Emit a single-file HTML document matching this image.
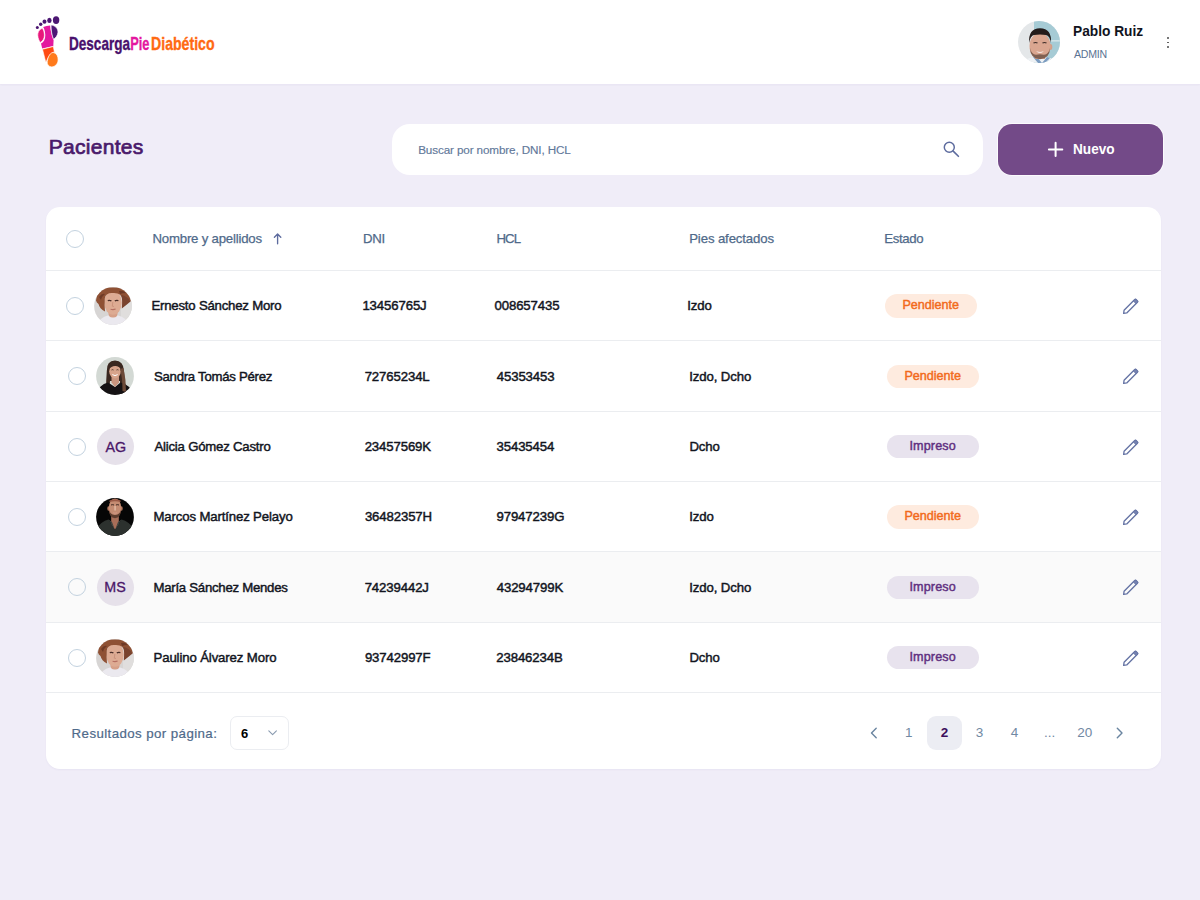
<!DOCTYPE html>
<html lang="es">
<head>
<meta charset="utf-8">
<title>Pacientes - DescargaPieDiabético</title>
<style>
html,body{margin:0;padding:0;}
body{width:1200px;height:900px;overflow:hidden;background:#F0EDF8;position:relative;font-family:"Liberation Sans",sans-serif;}
.t{position:absolute;line-height:1;white-space:nowrap;}
.hdr{position:absolute;left:0;top:0;width:1200px;height:84px;background:#FFFFFF;box-shadow:0 1px 2px rgba(60,40,120,0.05);}
.search{position:absolute;left:392px;top:124px;width:591px;height:51px;background:#FFFFFF;border-radius:18px;}
.btn{position:absolute;left:998px;top:124px;width:165px;height:51px;background:#734A88;border-radius:14px;box-shadow:0 0 0 1px rgba(255,255,255,0.7);}
.card{position:absolute;left:46px;top:207px;width:1115px;height:561.5px;background:#FFFFFF;border-radius:14px;box-shadow:0 1px 2px rgba(80,60,140,0.05);}
.sep{position:absolute;left:46px;width:1115px;height:1px;background:#EBEDF0;}
.hover{position:absolute;left:46px;top:552px;width:1115px;height:70px;background:#FAFAFA;}
.cb{position:absolute;width:16px;height:16px;border:1.3px solid #C3D2DF;border-radius:50%;}
.pill{position:absolute;width:92px;height:23.5px;border-radius:12px;}
.pp{background:#FEEBDF;}
.pi{background:#E8E3EE;}
.pen,.av,.svgabs{position:absolute;}
.ini{position:absolute;width:37.5px;height:37.5px;border-radius:50%;background:#E6E1EA;}
.sel{position:absolute;left:230px;top:716px;width:57px;height:31.5px;border:1px solid #EBEDF1;border-radius:7px;background:#fff;}
.pact{position:absolute;left:927px;top:716px;width:35px;height:34px;border-radius:9px;background:#ECEDF3;}
</style>
</head>
<body>
<svg width="0" height="0" style="position:absolute">
<defs>
  <clipPath id="cc38"><circle cx="19" cy="19" r="18.9"/></clipPath>
  <symbol id="pencil" viewBox="0 0 17 17">
    <g transform="rotate(-45 8.5 8.5)">
      <path d="M-1.2 8.5 L1.3 6.6 H16.4 Q17.4 6.6 17.4 7.6 V9.4 Q17.4 10.4 16.4 10.4 H1.3 Z" fill="none" stroke="#6372A3" stroke-width="1.3" stroke-linejoin="round"/>
      <path d="M14.3 6.6 H16.4 Q17.4 6.6 17.4 7.6 V9.4 Q17.4 10.4 16.4 10.4 H14.3 Z" fill="#7582B0" stroke="#6372A3" stroke-width="0.6"/>
    </g>
  </symbol>
  <symbol id="av0" viewBox="0 0 38 38">
    <g clip-path="url(#cc38)">
      <rect width="38" height="38" fill="#D7D5D4"/>
      <rect x="27" width="11" height="38" fill="#E0DEDD"/>
      <path d="M3 38 Q6 30 14 28.5 L24 28.5 Q32 30 35 38 Z" fill="#EBE9EF"/>
      <rect x="14.5" y="21" width="9" height="9.5" rx="4" fill="#D6A088"/>
      <ellipse cx="19" cy="15.8" rx="8.8" ry="12" fill="#DDAB93"/>
      <path d="M2 13.5 Q3 3 12 0.5 L26 0.5 Q35 3 37 14.5 Q34 12 28.2 13 Q28 5.5 19 6 Q11.5 5.5 10.8 11.5 Q10.3 18 11 24.5 Q5.5 21.5 4.5 17 Q2.5 15.5 2 13.5 Z" fill="#8F5134"/>
      <path d="M27.4 8 Q28.6 13 27.8 21.5 Q33 17.5 36.5 14.5 Q33.5 9 27.4 8 Z" fill="#7A432E"/>
      <path d="M5 10 Q8 6 11 7 Q8 9 7 13 Z M25 4 Q29 3 32 6 Q28 6 26 7 Z" fill="#6E3A26"/>
      <path d="M13.8 13.6 Q15.6 12.9 17.4 13.8 M20.8 13.8 Q22.6 12.9 24.4 13.6" stroke="#4A2E28" stroke-width="1.3" fill="none"/>
      <path d="M16.6 22.2 Q19 23 21.6 22.1" stroke="#B46E60" stroke-width="1.1" fill="none"/>
      <path d="M18.8 15 L18.3 19.2 L20 19.5" stroke="#C48A74" stroke-width="0.7" fill="none"/>
    </g>
  </symbol>
  <symbol id="av1" viewBox="0 0 38 38">
    <g clip-path="url(#cc38)">
      <rect width="38" height="38" fill="#D3D9D4"/>
      <path d="M10.8 14 Q10.5 3.8 19 3.6 Q27.5 3.8 28 14 L29 26 Q31.5 33 28 37 L24 37 L24 24 L14 24 L13.5 30 Q9.5 29 10.2 24 Z" fill="#3A2820"/>
      <path d="M0 38 Q3 27.5 12 25.5 L19 30 L24.5 25.5 Q34 27.5 38 38 Z" fill="#151214"/>
      <path d="M15.5 20 L15.5 25.5 L19 30 L23 25.5 L23 20 Z" fill="#C9957F"/>
      <ellipse cx="19" cy="14.2" rx="5.8" ry="7.2" fill="#D8A48B"/>
      <path d="M13 12.5 Q14 6.5 19 6.6 Q24.5 6.8 25.2 12.5 Q23 8.8 19 9 Q15 9.2 13 12.5 Z" fill="#3A2820"/>
      <path d="M24 12 Q26.5 20 26.5 34 L30 35 Q30 22 27.5 11 Z" fill="#6C4A38"/>
      <path d="M16.3 17.6 Q19 19.6 21.7 17.6" stroke="#FFFFFF" stroke-width="1" fill="none"/>
      <path d="M15.5 13 Q16.5 12.3 17.5 13 M20.5 13 Q21.5 12.3 22.5 13" stroke="#3A2820" stroke-width="0.8" fill="none"/>
    </g>
  </symbol>
  <symbol id="av3" viewBox="0 0 38 38">
    <g clip-path="url(#cc38)">
      <rect width="38" height="38" fill="#060606"/>
      <path d="M15.2 16 L15.2 26 L19 32 L22.8 26 L22.8 16 Z" fill="#A86E58"/>
      <path d="M0 38 L0 31 Q5 23.5 12.5 21.5 L19 32 L25.5 21.5 Q33 23.5 38 31 L38 38 Z" fill="#2C312E"/>
      <path d="M12.5 21.5 L19 32 L16 24 Z M25.5 21.5 L19 32 L22 24 Z" fill="#3E4440"/>
      <ellipse cx="12.6" cy="10.5" rx="1.3" ry="2.2" fill="#B57A62"/>
      <ellipse cx="25.4" cy="10.5" rx="1.3" ry="2.2" fill="#B57A62"/>
      <ellipse cx="19" cy="10" rx="6.3" ry="9.6" fill="#C48C72"/>
      <path d="M12.8 11 Q13 19.8 19 20.2 Q25 19.8 25.2 11 Q24.5 16.5 19 17 Q13.5 16.5 12.8 11 Z" fill="#5C3C2E"/>
      <path d="M13.5 2.5 Q19 0 24.5 2.5 L24.5 4 Q19 2.5 13.5 4 Z" fill="#9A5A46"/>
      <path d="M15 7 Q16.5 6.3 18 7 M20 7 Q21.5 6.3 23 7" stroke="#3A2620" stroke-width="1" fill="none"/>
      <rect x="18.2" y="8" width="1.8" height="4.5" fill="#DDB29A"/>
      <path d="M17 14.8 Q19 15.6 21 14.8" stroke="#D39A88" stroke-width="0.9" fill="none"/>
    </g>
  </symbol>
  <symbol id="av5" viewBox="0 0 38 38"><use href="#av0"/></symbol>
  <clipPath id="cc42"><circle cx="21" cy="21" r="21"/></clipPath>
</defs>
</svg>

<div class="hdr"></div>
<!-- logo foot -->
<svg class="svgabs" style="left:30px;top:10px" width="30" height="60" viewBox="0 0 30 60">
  <ellipse cx="7.3" cy="17.6" rx="1.5" ry="1.5" fill="#4B1672"/>
  <ellipse cx="10.7" cy="14.3" rx="1.7" ry="1.7" fill="#4B1672"/>
  <ellipse cx="14.5" cy="11.7" rx="2" ry="2.1" fill="#4B1672"/>
  <ellipse cx="19.4" cy="10.4" rx="2.2" ry="2.6" fill="#4B1672"/>
  <ellipse cx="26.1" cy="10.1" rx="3.2" ry="3.9" fill="#4B1672"/>
  <path d="M13.2 16.9 C15.4 16.2 17.6 15.7 20.2 15.6 C20.4 20.6 21.6 26 23.6 30 L23.3 36 L12.2 38.6 L11 33.6 C13.9 32.2 15.4 28.7 15.3 25 C15.2 22 14.5 19.2 13.2 16.9 Z" fill="#E3189F"/>
  <path d="M21.1 15.1 C25.2 15.4 28.3 18.8 27.9 22.6 C27.6 25.6 25.6 27.9 23.6 29.3 C22 26 21 20 21.1 15.1 Z" fill="#4E1675" stroke="#fff" stroke-width="0.6"/>
  <path d="M12.2 18.3 C9.2 19.3 7.6 22.5 7.8 25.5 C8 28.5 9.2 31.2 10.4 32.4 C12.8 31 14.5 28.3 14.4 25 C14.3 22.2 13.5 19.8 12.2 18.3 Z" fill="#E8177C" stroke="#fff" stroke-width="0.6"/>
  <path d="M12.5 39.3 L23.3 36.5 L24.4 42 C21 42.6 18.6 46 16.4 51.4 L15.6 51.4 Z" fill="#FF4A12" stroke="#fff" stroke-width="0.6"/>
  <path d="M23.6 42.6 C26.7 43.2 28.3 46.6 28.1 50 C27.9 54 24.9 56.9 21.7 56.9 C19 56.9 16.8 54.6 17.2 51.6 C17.8 47 20.3 42 23.6 42.6 Z" fill="#FF7A1C" stroke="#fff" stroke-width="0.7"/>
</svg>
<svg class="svgabs" style="left:66px;top:30px" width="150" height="28" viewBox="0 0 150 28">
  <g font-family="Liberation Sans" font-weight="700" font-size="18.2" stroke-width="0.35" lengthAdjust="spacingAndGlyphs">
  <text x="3" y="20" fill="#48106C" stroke="#48106C" textLength="61" lengthAdjust="spacingAndGlyphs">Descarga</text>
  <text x="64.2" y="20" fill="#E4179F" stroke="#E4179F" textLength="19.2" lengthAdjust="spacingAndGlyphs">Pie</text>
  <text x="85" y="20" fill="#FF6A12" stroke="#FF6A12" textLength="63.6" lengthAdjust="spacingAndGlyphs">Diabético</text>
  </g>
</svg>
<!-- header avatar -->
<svg class="svgabs" style="left:1018px;top:21px" width="42" height="42" viewBox="0 0 42 42">
  <g clip-path="url(#cc42)">
    <rect width="42" height="42" fill="#E4E7E9"/>
    <path d="M16 0 H42 V42 H16 Z" fill="#A6CBD5"/>
    <rect x="30" y="19" width="12" height="1.6" fill="#CFE3E8"/>
    <path d="M5 42 Q9 35 22 36 Q35 35 39 42 Z" fill="#EEF1F4"/>
    <path d="M15 36 L20 42 L24 42 L19 36 Z M29 36 L24 42 L27 42 L32 37 Z" fill="#7C9CC0"/>
    <rect x="17" y="30" width="10" height="8" fill="#C9957E"/>
    <ellipse cx="32.5" cy="26" rx="1.8" ry="3" fill="#D39D86"/>
    <ellipse cx="22" cy="25" rx="10.5" ry="13" fill="#DAA690"/>
    <path d="M11.8 26.5 Q12.5 38 22 38.3 Q31.5 38 32.2 26.5 Q30.5 33.5 26 33.8 Q22 32.5 18 33.8 Q13.5 33.5 11.8 26.5 Z" fill="#806052"/>
    <path d="M11.2 22 Q10 7.5 22 7.2 Q34 7.5 33 22 Q31.8 14.5 28 14 Q22 12.8 16 14 Q12.2 14.8 11.2 22 Z" fill="#231B1A"/>
    <path d="M15.5 22 Q17.5 21 19.5 22 M24.5 22 Q26.5 21 28.5 22" stroke="#3A2A26" stroke-width="1.2" fill="none"/>
    <path d="M18 30.2 Q22 33.2 26 30.2 Q22 31.6 18 30.2 Z" fill="#FFFFFF"/>
  </g>
</svg>
<!-- kebab -->
<div style="position:absolute;left:1167.2px;top:36.8px;width:1.8px;height:1.8px;border-radius:1px;background:#4A4A4A"></div>
<div style="position:absolute;left:1167.2px;top:41.5px;width:1.8px;height:1.8px;border-radius:1px;background:#4A4A4A"></div>
<div style="position:absolute;left:1167.2px;top:46.2px;width:1.8px;height:1.8px;border-radius:1px;background:#4A4A4A"></div>

<div class="search"></div>
<svg class="svgabs" style="left:935px;top:134px" width="30" height="30" viewBox="0 0 30 30">
  <circle cx="14.3" cy="13.2" r="5" fill="none" stroke="#5D6B9E" stroke-width="1.45"/>
  <path d="M18.2 17.1 L23.4 22.3" stroke="#5D6B9E" stroke-width="1.6" stroke-linecap="round"/>
</svg>
<div class="btn"></div>
<svg class="svgabs" style="left:1040px;top:134px" width="30" height="30" viewBox="0 0 30 30">
  <path d="M8.9 15.4 H22.3 M15.6 8.7 V22.1" stroke="#FFFFFF" stroke-width="2" stroke-linecap="round"/>
</svg>

<div class="card"></div>
<div class="hover"></div>
<div class="sep" style="top:270px"></div>
<div class="sep" style="top:340.0px"></div>
<div class="sep" style="top:410.5px"></div>
<div class="sep" style="top:480.5px"></div>
<div class="sep" style="top:551.0px"></div>
<div class="sep" style="top:621.5px"></div>
<div class="sep" style="top:691.5px"></div>
<div class="cb" style="left:66px;top:230px"></div>
<svg class="svgabs" style="left:265px;top:227px" width="25" height="25" viewBox="0 0 25 25">
  <path d="M12.6 7.2 V16.8 M9.4 10.2 L12.6 7 L15.8 10.2" fill="none" stroke="#5D6B9E" stroke-width="1.35" stroke-linecap="round" stroke-linejoin="round"/>
</svg>
<div class="cb" style="left:66px;top:296.8px"></div>
<div class="pill pp" style="left:885px;top:294.1px"></div>
<svg class="pen" style="left:1122px;top:297.8px" width="17" height="17" viewBox="0 0 17 17"><use href="#pencil"/></svg>
<svg class="av" style="left:94px;top:286.9px" width="38" height="38" viewBox="0 0 38 38"><use href="#av0"/></svg>
<div class="cb" style="left:68px;top:367.2px"></div>
<div class="pill pp" style="left:887px;top:364.6px"></div>
<svg class="pen" style="left:1122px;top:368.2px" width="17" height="17" viewBox="0 0 17 17"><use href="#pencil"/></svg>
<svg class="av" style="left:95.9px;top:357.4px" width="38" height="38" viewBox="0 0 38 38"><use href="#av1"/></svg>
<div class="cb" style="left:68px;top:437.5px"></div>
<div class="pill pi" style="left:887px;top:434.8px"></div>
<svg class="pen" style="left:1122px;top:438.5px" width="17" height="17" viewBox="0 0 17 17"><use href="#pencil"/></svg>
<div class="ini" style="left:96.6px;top:427.8px"></div>
<div class="cb" style="left:68px;top:507.8px"></div>
<div class="pill pp" style="left:887px;top:505.1px"></div>
<svg class="pen" style="left:1122px;top:508.8px" width="17" height="17" viewBox="0 0 17 17"><use href="#pencil"/></svg>
<svg class="av" style="left:95.9px;top:497.9px" width="38" height="38" viewBox="0 0 38 38"><use href="#av3"/></svg>
<div class="cb" style="left:68px;top:578.2px"></div>
<div class="pill pi" style="left:887px;top:575.5px"></div>
<svg class="pen" style="left:1122px;top:579.2px" width="17" height="17" viewBox="0 0 17 17"><use href="#pencil"/></svg>
<div class="ini" style="left:96.6px;top:568.5px"></div>
<div class="cb" style="left:68px;top:648.5px"></div>
<div class="pill pi" style="left:887px;top:645.8px"></div>
<svg class="pen" style="left:1122px;top:649.5px" width="17" height="17" viewBox="0 0 17 17"><use href="#pencil"/></svg>
<svg class="av" style="left:95.9px;top:638.6px" width="38" height="38" viewBox="0 0 38 38"><use href="#av5"/></svg>

<div class="sel"></div>
<svg class="svgabs" style="left:265px;top:727px" width="15" height="12" viewBox="0 0 15 12">
  <path d="M3.8 3.8 L7.6 7.6 L11.4 3.8" fill="none" stroke="#8A9BB0" stroke-width="1.1" stroke-linecap="round" stroke-linejoin="round"/>
</svg>
<div class="pact"></div>
<svg class="svgabs" style="left:866px;top:725px" width="16" height="16" viewBox="0 0 16 16">
  <path d="M10.2 3.2 L5.5 8 L10.2 12.8" fill="none" stroke="#6A85A0" stroke-width="1.4" stroke-linecap="round" stroke-linejoin="round"/>
</svg>
<svg class="svgabs" style="left:1112px;top:725px" width="16" height="16" viewBox="0 0 16 16">
  <path d="M5.3 3.2 L10 8 L5.3 12.8" fill="none" stroke="#6A85A0" stroke-width="1.4" stroke-linecap="round" stroke-linejoin="round"/>
</svg>

<span class="t" style="left:1073.15px;top:23.95px;font-size:14.5px;font-weight:700;letter-spacing:0.000px;color:#11141d;transform:scaleX(0.9471);transform-origin:0 0;">Pablo Ruiz</span>
<span class="t" style="left:1073.90px;top:49.47px;font-size:10.6px;font-weight:400;letter-spacing:-0.213px;color:#5B7393;">ADMIN</span>
<span class="t" style="left:48.75px;top:135.61px;font-size:21px;font-weight:400;letter-spacing:0.281px;color:#4A196B;-webkit-text-stroke:0.71px #4A196B;">Pacientes</span>
<span class="t" style="left:418.20px;top:144.03px;font-size:11.7px;font-weight:400;letter-spacing:-0.127px;color:#62789A;-webkit-text-stroke:0.15px #62789A">Buscar por nombre, DNI, HCL</span>
<span class="t" style="left:1072.87px;top:141.38px;font-size:15.4px;font-weight:700;letter-spacing:0.000px;color:#FFFFFF;transform:scaleX(0.8835);transform-origin:0 0;">Nuevo</span>
<span class="t" style="left:152.50px;top:231.75px;font-size:13.2px;font-weight:400;letter-spacing:-0.194px;color:#4F6A8A;-webkit-text-stroke:0.25px #4F6A8A">Nombre y apellidos</span>
<span class="t" style="left:363.00px;top:231.75px;font-size:13.2px;font-weight:400;letter-spacing:-0.250px;color:#4F6A8A;-webkit-text-stroke:0.25px #4F6A8A">DNI</span>
<span class="t" style="left:496.60px;top:231.75px;font-size:13.2px;font-weight:400;letter-spacing:-1.000px;color:#4F6A8A;-webkit-text-stroke:0.25px #4F6A8A">HCL</span>
<span class="t" style="left:689.20px;top:231.75px;font-size:13.2px;font-weight:400;letter-spacing:-0.123px;color:#4F6A8A;-webkit-text-stroke:0.25px #4F6A8A">Pies afectados</span>
<span class="t" style="left:884.20px;top:231.75px;font-size:13.2px;font-weight:400;letter-spacing:-0.320px;color:#4F6A8A;-webkit-text-stroke:0.25px #4F6A8A">Estado</span>
<span class="t" style="left:151.50px;top:299.10px;font-size:13.2px;font-weight:400;letter-spacing:-0.216px;color:#12151E;-webkit-text-stroke:0.45px #12151E;">Ernesto Sánchez Moro</span>
<span class="t" style="left:362.40px;top:299.10px;font-size:13.2px;font-weight:400;letter-spacing:-0.119px;color:#12151E;-webkit-text-stroke:0.45px #12151E;">13456765J</span>
<span class="t" style="left:494.50px;top:299.10px;font-size:13.2px;font-weight:400;letter-spacing:-0.122px;color:#12151E;-webkit-text-stroke:0.45px #12151E;">008657435</span>
<span class="t" style="left:687.15px;top:299.10px;font-size:13.2px;font-weight:400;letter-spacing:-0.115px;color:#12151E;-webkit-text-stroke:0.45px #12151E;">Izdo</span>
<span class="t" style="left:902.50px;top:299.31px;font-size:12.6px;font-weight:400;letter-spacing:-0.031px;color:#F26A1B;-webkit-text-stroke:0.43px #F26A1B;">Pendiente</span>
<span class="t" style="left:154.00px;top:369.60px;font-size:13.2px;font-weight:400;letter-spacing:-0.268px;color:#12151E;-webkit-text-stroke:0.45px #12151E;">Sandra Tomás Pérez</span>
<span class="t" style="left:364.65px;top:369.60px;font-size:13.2px;font-weight:400;letter-spacing:-0.121px;color:#12151E;-webkit-text-stroke:0.45px #12151E;">72765234L</span>
<span class="t" style="left:496.75px;top:369.60px;font-size:13.2px;font-weight:400;letter-spacing:-0.124px;color:#12151E;-webkit-text-stroke:0.45px #12151E;">45353453</span>
<span class="t" style="left:689.15px;top:369.60px;font-size:13.2px;font-weight:400;letter-spacing:-0.102px;color:#12151E;-webkit-text-stroke:0.45px #12151E;">Izdo, Dcho</span>
<span class="t" style="left:904.50px;top:369.81px;font-size:12.6px;font-weight:400;letter-spacing:-0.031px;color:#F26A1B;-webkit-text-stroke:0.43px #F26A1B;">Pendiente</span>
<span class="t" style="left:154.50px;top:439.85px;font-size:13.2px;font-weight:400;letter-spacing:-0.219px;color:#12151E;-webkit-text-stroke:0.45px #12151E;">Alicia Gómez Castro</span>
<span class="t" style="left:364.65px;top:439.85px;font-size:13.2px;font-weight:400;letter-spacing:-0.125px;color:#12151E;-webkit-text-stroke:0.45px #12151E;">23457569K</span>
<span class="t" style="left:496.50px;top:439.85px;font-size:13.2px;font-weight:400;letter-spacing:-0.124px;color:#12151E;-webkit-text-stroke:0.45px #12151E;">35435454</span>
<span class="t" style="left:689.40px;top:439.85px;font-size:13.2px;font-weight:400;letter-spacing:-0.146px;color:#12151E;-webkit-text-stroke:0.45px #12151E;">Dcho</span>
<span class="t" style="left:909.50px;top:440.06px;font-size:12.6px;font-weight:400;letter-spacing:0.125px;color:#5F2F80;-webkit-text-stroke:0.43px #5F2F80;">Impreso</span>
<span class="t" style="left:105.45px;top:439.62px;font-size:14.3px;font-weight:400;letter-spacing:-0.050px;color:#4A1668;-webkit-text-stroke:0.3px #4A1668">AG</span>
<span class="t" style="left:153.50px;top:510.10px;font-size:13.2px;font-weight:400;letter-spacing:-0.140px;color:#12151E;-webkit-text-stroke:0.45px #12151E;">Marcos Martínez Pelayo</span>
<span class="t" style="left:364.90px;top:510.10px;font-size:13.2px;font-weight:400;letter-spacing:-0.125px;color:#12151E;-webkit-text-stroke:0.45px #12151E;">36482357H</span>
<span class="t" style="left:496.50px;top:510.10px;font-size:13.2px;font-weight:400;letter-spacing:-0.127px;color:#12151E;-webkit-text-stroke:0.45px #12151E;">97947239G</span>
<span class="t" style="left:689.15px;top:510.10px;font-size:13.2px;font-weight:400;letter-spacing:-0.115px;color:#12151E;-webkit-text-stroke:0.45px #12151E;">Izdo</span>
<span class="t" style="left:904.50px;top:510.31px;font-size:12.6px;font-weight:400;letter-spacing:-0.031px;color:#F26A1B;-webkit-text-stroke:0.43px #F26A1B;">Pendiente</span>
<span class="t" style="left:153.50px;top:580.60px;font-size:13.2px;font-weight:400;letter-spacing:-0.261px;color:#12151E;-webkit-text-stroke:0.45px #12151E;">María Sánchez Mendes</span>
<span class="t" style="left:364.65px;top:580.60px;font-size:13.2px;font-weight:400;letter-spacing:-0.119px;color:#12151E;-webkit-text-stroke:0.45px #12151E;">74239442J</span>
<span class="t" style="left:496.75px;top:580.60px;font-size:13.2px;font-weight:400;letter-spacing:-0.126px;color:#12151E;-webkit-text-stroke:0.45px #12151E;">43294799K</span>
<span class="t" style="left:689.15px;top:580.60px;font-size:13.2px;font-weight:400;letter-spacing:-0.102px;color:#12151E;-webkit-text-stroke:0.45px #12151E;">Izdo, Dcho</span>
<span class="t" style="left:909.50px;top:580.81px;font-size:12.6px;font-weight:400;letter-spacing:0.125px;color:#5F2F80;-webkit-text-stroke:0.43px #5F2F80;">Impreso</span>
<span class="t" style="left:104.20px;top:580.37px;font-size:14.3px;font-weight:400;letter-spacing:0.200px;color:#4A1668;-webkit-text-stroke:0.3px #4A1668">MS</span>
<span class="t" style="left:153.50px;top:650.85px;font-size:13.2px;font-weight:400;letter-spacing:-0.124px;color:#12151E;-webkit-text-stroke:0.45px #12151E;">Paulino Álvarez Moro</span>
<span class="t" style="left:364.90px;top:650.85px;font-size:13.2px;font-weight:400;letter-spacing:-0.123px;color:#12151E;-webkit-text-stroke:0.45px #12151E;">93742997F</span>
<span class="t" style="left:496.25px;top:650.85px;font-size:13.2px;font-weight:400;letter-spacing:-0.124px;color:#12151E;-webkit-text-stroke:0.45px #12151E;">23846234B</span>
<span class="t" style="left:689.40px;top:650.85px;font-size:13.2px;font-weight:400;letter-spacing:-0.146px;color:#12151E;-webkit-text-stroke:0.45px #12151E;">Dcho</span>
<span class="t" style="left:909.50px;top:651.06px;font-size:12.6px;font-weight:400;letter-spacing:0.125px;color:#5F2F80;-webkit-text-stroke:0.43px #5F2F80;">Impreso</span>
<span class="t" style="left:71.60px;top:726.77px;font-size:13.3px;font-weight:400;letter-spacing:0.405px;color:#4F6A8A;-webkit-text-stroke:0.2px #4F6A8A">Resultados por página:</span>
<span class="t" style="left:240.90px;top:726.52px;font-size:13px;font-weight:700;letter-spacing:0.000px;color:#000000;">6</span>
<span class="t" style="left:905.00px;top:726.00px;font-size:13.5px;font-weight:400;letter-spacing:0.000px;color:#7189A3;">1</span>
<span class="t" style="left:940.65px;top:726.00px;font-size:13.5px;font-weight:700;letter-spacing:0.000px;color:#3D0E5C;">2</span>
<span class="t" style="left:975.65px;top:726.00px;font-size:13.5px;font-weight:400;letter-spacing:0.000px;color:#7189A3;">3</span>
<span class="t" style="left:1010.85px;top:726.00px;font-size:13.5px;font-weight:400;letter-spacing:0.000px;color:#7189A3;">4</span>
<span class="t" style="left:1043.88px;top:726.00px;font-size:13.5px;font-weight:400;letter-spacing:0.000px;color:#7189A3;">...</span>
<span class="t" style="left:1077.17px;top:726.00px;font-size:13.5px;font-weight:400;letter-spacing:0.000px;color:#7189A3;">20</span>
</body>
</html>
